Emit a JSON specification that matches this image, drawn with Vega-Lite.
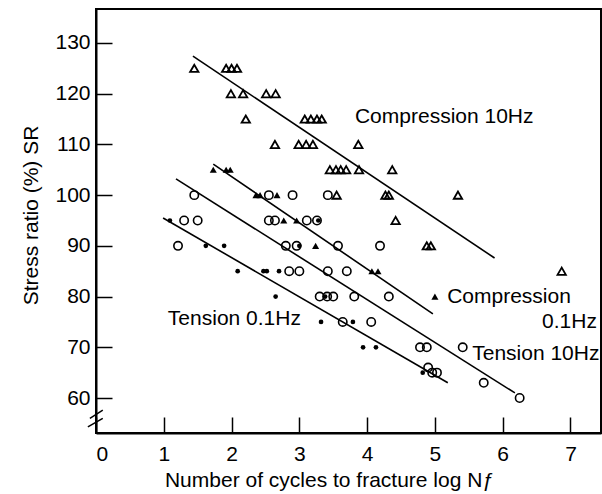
{
  "$schema": "https://vega.github.io/schema/vega-lite/v6.json",
  "width": 505,
  "height": 424,
  "autosize": "none",
  "padding": {"left": 96, "top": 9, "right": 1, "bottom": 61},
  "background": "white",
  "config": {
    "font": "Liberation Sans",
    "view": {"stroke": "black", "strokeWidth": 2},
    "axis": {
      "grid": false,
      "domainColor": "black",
      "domainWidth": 2,
      "tickColor": "black",
      "tickWidth": 1.5,
      "tickSize": -16,
      "labelColor": "black",
      "labelFontSize": 21,
      "labelFont": "Liberation Sans",
      "titleFont": "Liberation Sans",
      "titleFontSize": 21,
      "titleFontWeight": "normal",
      "titleColor": "black"
    }
  },
  "datasets": {
    "pts": [
      {"s": "C10", "n": 1.45, "sr": 125}, {"s": "C10", "n": 1.92, "sr": 125}, {"s": "C10", "n": 2.0, "sr": 125}, {"s": "C10", "n": 2.08, "sr": 125},
      {"s": "C10", "n": 1.99, "sr": 120}, {"s": "C10", "n": 2.17, "sr": 120}, {"s": "C10", "n": 2.51, "sr": 120}, {"s": "C10", "n": 2.65, "sr": 120},
      {"s": "C10", "n": 2.21, "sr": 115}, {"s": "C10", "n": 3.08, "sr": 115}, {"s": "C10", "n": 3.17, "sr": 115}, {"s": "C10", "n": 3.26, "sr": 115}, {"s": "C10", "n": 3.33, "sr": 115},
      {"s": "C10", "n": 2.64, "sr": 110}, {"s": "C10", "n": 2.99, "sr": 110}, {"s": "C10", "n": 3.1, "sr": 110}, {"s": "C10", "n": 3.2, "sr": 110}, {"s": "C10", "n": 3.87, "sr": 110},
      {"s": "C10", "n": 3.45, "sr": 105}, {"s": "C10", "n": 3.54, "sr": 105}, {"s": "C10", "n": 3.61, "sr": 105}, {"s": "C10", "n": 3.69, "sr": 105}, {"s": "C10", "n": 3.88, "sr": 105}, {"s": "C10", "n": 4.37, "sr": 105},
      {"s": "C10", "n": 3.55, "sr": 100}, {"s": "C10", "n": 4.27, "sr": 100}, {"s": "C10", "n": 4.32, "sr": 100}, {"s": "C10", "n": 5.34, "sr": 100},
      {"s": "C10", "n": 4.42, "sr": 95},
      {"s": "C10", "n": 4.88, "sr": 90}, {"s": "C10", "n": 4.94, "sr": 90},
      {"s": "C10", "n": 6.87, "sr": 85},
      {"s": "C01", "n": 1.73, "sr": 105}, {"s": "C01", "n": 1.92, "sr": 105}, {"s": "C01", "n": 1.98, "sr": 105},
      {"s": "C01", "n": 2.36, "sr": 100}, {"s": "C01", "n": 2.42, "sr": 100}, {"s": "C01", "n": 2.67, "sr": 100},
      {"s": "C01", "n": 2.77, "sr": 95}, {"s": "C01", "n": 2.96, "sr": 95},
      {"s": "C01", "n": 3.24, "sr": 90},
      {"s": "C01", "n": 4.07, "sr": 85}, {"s": "C01", "n": 4.16, "sr": 85},
      {"s": "C01", "n": 5.0, "sr": 80},
      {"s": "T10", "n": 1.45, "sr": 100}, {"s": "T10", "n": 2.55, "sr": 100}, {"s": "T10", "n": 2.9, "sr": 100}, {"s": "T10", "n": 3.42, "sr": 100},
      {"s": "T10", "n": 1.3, "sr": 95}, {"s": "T10", "n": 1.5, "sr": 95}, {"s": "T10", "n": 2.55, "sr": 95}, {"s": "T10", "n": 2.64, "sr": 95}, {"s": "T10", "n": 3.11, "sr": 95}, {"s": "T10", "n": 3.26, "sr": 95},
      {"s": "T10", "n": 1.21, "sr": 90}, {"s": "T10", "n": 2.8, "sr": 90}, {"s": "T10", "n": 2.96, "sr": 90}, {"s": "T10", "n": 3.57, "sr": 90}, {"s": "T10", "n": 4.19, "sr": 90},
      {"s": "T10", "n": 2.85, "sr": 85}, {"s": "T10", "n": 3.0, "sr": 85}, {"s": "T10", "n": 3.42, "sr": 85}, {"s": "T10", "n": 3.7, "sr": 85},
      {"s": "T10", "n": 3.3, "sr": 80}, {"s": "T10", "n": 3.41, "sr": 80}, {"s": "T10", "n": 3.5, "sr": 80}, {"s": "T10", "n": 3.81, "sr": 80}, {"s": "T10", "n": 4.32, "sr": 80},
      {"s": "T10", "n": 3.64, "sr": 75}, {"s": "T10", "n": 4.06, "sr": 75},
      {"s": "T10", "n": 4.78, "sr": 70}, {"s": "T10", "n": 4.88, "sr": 70}, {"s": "T10", "n": 5.41, "sr": 70},
      {"s": "T10", "n": 4.9, "sr": 66}, {"s": "T10", "n": 4.96, "sr": 65}, {"s": "T10", "n": 5.03, "sr": 65},
      {"s": "T10", "n": 5.72, "sr": 63},
      {"s": "T10", "n": 6.25, "sr": 60},
      {"s": "T01", "n": 1.09, "sr": 95}, {"s": "T01", "n": 3.28, "sr": 95},
      {"s": "T01", "n": 1.62, "sr": 90}, {"s": "T01", "n": 1.89, "sr": 90}, {"s": "T01", "n": 3.0, "sr": 90},
      {"s": "T01", "n": 2.09, "sr": 85}, {"s": "T01", "n": 2.47, "sr": 85}, {"s": "T01", "n": 2.52, "sr": 85}, {"s": "T01", "n": 2.7, "sr": 85},
      {"s": "T01", "n": 2.65, "sr": 80}, {"s": "T01", "n": 3.38, "sr": 80},
      {"s": "T01", "n": 3.32, "sr": 75}, {"s": "T01", "n": 3.79, "sr": 75},
      {"s": "T01", "n": 3.94, "sr": 70}, {"s": "T01", "n": 4.13, "sr": 70},
      {"s": "T01", "n": 4.82, "sr": 65}
    ],
    "fits": [
      {"s": "C10", "n1": 1.43, "sr1": 127.4, "n2": 5.88, "sr2": 87.6},
      {"s": "C01", "n1": 1.73, "sr1": 106.1, "n2": 4.97, "sr2": 76.6},
      {"s": "T10", "n1": 1.18, "sr1": 103.2, "n2": 6.18, "sr2": 61.0},
      {"s": "T01", "n1": 0.99, "sr1": 95.5, "n2": 5.19, "sr2": 63.0}
    ],
    "labels": [
      {"t": "Compression 10Hz", "n": 3.82, "sr": 115.4},
      {"t": "Compression", "n": 5.18, "sr": 79.9},
      {"t": "0.1Hz", "n": 6.58, "sr": 75.0},
      {"t": "Tension 10Hz", "n": 5.55, "sr": 68.7},
      {"t": "Tension 0.1Hz", "n": 1.06, "sr": 75.6}
    ],
    "brk": [
      {"n1": -0.09, "sr1": 56.0, "n2": 0.1, "sr2": 57.6},
      {"n1": -0.12, "sr1": 54.3, "n2": 0.1, "sr2": 56.0}
    ]
  },
  "layer": [
    {
      "data": {"name": "fits"},
      "mark": {"type": "rule", "color": "black", "strokeWidth": 1.6},
      "encoding": {
        "x": {
          "field": "n1", "type": "quantitative",
          "scale": {"domain": [0, 7.45], "nice": false, "zero": false},
          "axis": {
            "values": [0, 1, 2, 3, 4, 5, 6, 7],
            "format": "d",
            "labelPadding": 26,
            "title": "Number of cycles to fracture log Nƒ",
            "titleX": 233,
            "titleY": 53,
            "titleBaseline": "alphabetic",
            "titleAlign": "center"
          }
        },
        "y": {
          "field": "sr1", "type": "quantitative",
          "scale": {"domain": [53.1, 136.7], "nice": false, "zero": false},
          "axis": {
            "values": [60, 70, 80, 90, 100, 110, 120, 130],
            "format": "d",
            "labelPadding": 22,
            "title": "Stress ratio (%) SR",
            "titleX": -59,
            "titleY": 206,
            "titleAngle": 270,
            "titleBaseline": "alphabetic",
            "titleAlign": "center"
          }
        },
        "x2": {"field": "n2"},
        "y2": {"field": "sr2"}
      }
    },
    {
      "data": {"name": "brk"},
      "mark": {"type": "rule", "color": "black", "strokeWidth": 1.5},
      "encoding": {
        "x": {"field": "n1", "type": "quantitative"},
        "y": {"field": "sr1", "type": "quantitative"},
        "x2": {"field": "n2"},
        "y2": {"field": "sr2"}
      }
    },
    {
      "data": {"name": "pts"},
      "transform": [{"filter": "datum.s === 'C10'"}],
      "mark": {"type": "point", "shape": "triangle-up", "filled": false, "stroke": "black", "strokeWidth": 1.8, "size": 70, "opacity": 1},
      "encoding": {
        "x": {"field": "n", "type": "quantitative"},
        "y": {"field": "sr", "type": "quantitative"}
      }
    },
    {
      "data": {"name": "pts"},
      "transform": [{"filter": "datum.s === 'T10'"}],
      "mark": {"type": "point", "shape": "circle", "filled": false, "stroke": "black", "strokeWidth": 1.6, "size": 70, "opacity": 1},
      "encoding": {
        "x": {"field": "n", "type": "quantitative"},
        "y": {"field": "sr", "type": "quantitative"}
      }
    },
    {
      "data": {"name": "pts"},
      "transform": [{"filter": "datum.s === 'C01'"}],
      "mark": {"type": "point", "shape": "triangle-up", "filled": true, "fill": "black", "size": 50, "opacity": 1},
      "encoding": {
        "x": {"field": "n", "type": "quantitative"},
        "y": {"field": "sr", "type": "quantitative"}
      }
    },
    {
      "data": {"name": "pts"},
      "transform": [{"filter": "datum.s === 'T01'"}],
      "mark": {"type": "point", "shape": "circle", "filled": true, "fill": "black", "size": 22, "opacity": 1},
      "encoding": {
        "x": {"field": "n", "type": "quantitative"},
        "y": {"field": "sr", "type": "quantitative"}
      }
    },
    {
      "data": {"name": "labels"},
      "mark": {"type": "text", "align": "left", "baseline": "middle", "fontSize": 21, "font": "Liberation Sans", "color": "black"},
      "encoding": {
        "x": {"field": "n", "type": "quantitative"},
        "y": {"field": "sr", "type": "quantitative"},
        "text": {"field": "t"}
      }
    }
  ]
}
